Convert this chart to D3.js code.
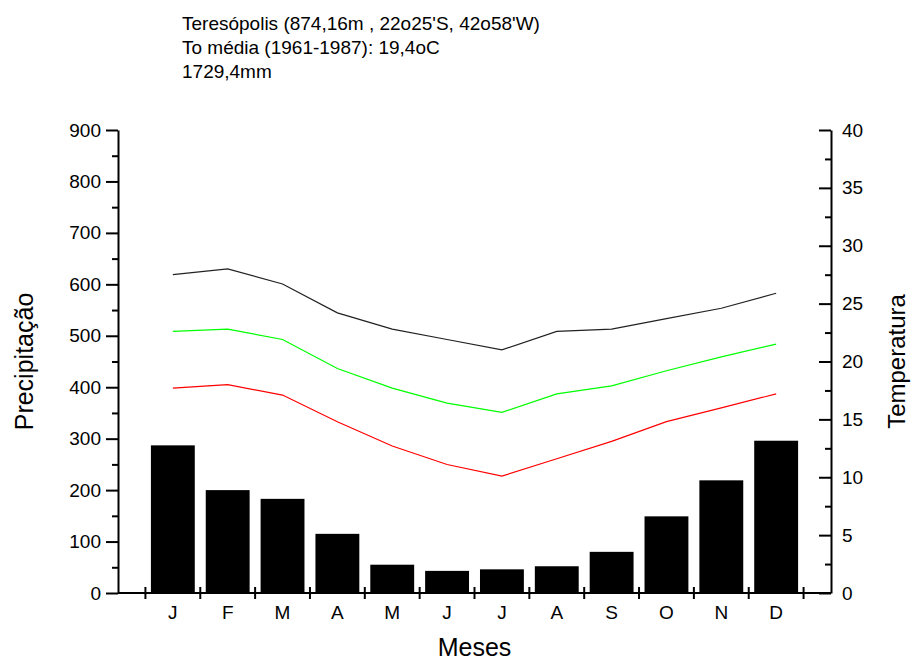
<!DOCTYPE html>
<html>
<head>
<meta charset="utf-8">
<script src="https://cdn.jsdelivr.net/npm/d3@7"></script>
<style>
body { margin: 0; background: #fff; }
svg text { font-family: "Liberation Sans", Arial, sans-serif; fill: #000; }
</style>
</head>
<body>
<script>
// data
var months = ["J","F","M","A","M","J","J","A","S","O","N","D"];
var precip = [287, 200, 183, 115, 55, 43, 46, 52, 80, 149, 219, 296];
var tMax = [27.5, 28.0, 26.7, 24.2, 22.8, 21.9, 21.0, 22.6, 22.8, 23.7, 24.6, 25.9];
var tMean = [22.6, 22.8, 21.9, 19.4, 17.7, 16.4, 15.6, 17.2, 17.9, 19.2, 20.4, 21.5];
var tMin = [17.7, 18.0, 17.1, 14.8, 12.7, 11.1, 10.1, 11.6, 13.1, 14.8, 16.0, 17.2];
var precipTicks = [0,100,200,300,400,500,600,700,800,900];
var tempTicks = [0,5,10,15,20,25,30,35,40];
var titleLines = ["Teresópolis (874,16m , 22o25'S, 42o58'W)",
                  "To média (1961-1987): 19,4oC",
                  "1729,4mm"];

var W = 915, H = 662;
var plotLeft = 118, plotRight = 831, plotTop = 130, plotBottom = 593;

var svg = d3.select("body").append("svg")
    .attr("width", W)
    .attr("height", H);

var x = d3.scaleLinear().domain([0, 13]).range([plotLeft, plotRight]);
var y = d3.scaleLinear().domain([0, 900]).range([plotBottom, plotTop]);
var yT = d3.scaleLinear().domain([0, 40]).range([plotBottom, plotTop]);

// bars
var barW = 0.8;
svg.selectAll("rect.bar")
    .data(precip)
    .enter()
    .append("rect")
    .attr("class", "bar")
    .attr("x", function(d, i){ return x(i + 1 - barW/2); })
    .attr("width", function(){ return x(barW) - x(0); })
    .attr("y", function(d){ return y(d); })
    .attr("height", function(d){ return y(0) - y(d); })
    .attr("fill", "#000");

// temperature lines
var line = d3.line()
    .x(function(d, i){ return x(i + 1); })
    .y(function(d){ return yT(d); });

[[tMax, "#222"], [tMean, "#00ff00"], [tMin, "#ff0000"]].forEach(function(s){
    svg.append("path")
        .datum(s[0])
        .attr("d", line)
        .attr("fill", "none")
        .attr("stroke", s[1])
        .attr("stroke-width", 1.2);
});

// left axis
var minorP = d3.range(50, 900, 100);
svg.append("g")
    .attr("transform", "translate(" + plotLeft + ",0)")
    .call(d3.axisLeft(y).tickValues(minorP).tickSize(6).tickFormat(""))
    .call(function(g){ g.select(".domain").remove(); });
var gl = svg.append("g")
    .attr("transform", "translate(" + plotLeft + ",0)")
    .call(d3.axisLeft(y).tickValues(precipTicks).tickSize(12).tickSizeOuter(0).tickPadding(5));
gl.selectAll("text").style("font-size", "19px").style("font-family", "Liberation Sans, Arial, sans-serif");

// right axis, ticks pointing inward
var minorT = d3.range(2.5, 40, 5);
svg.append("g")
    .attr("transform", "translate(" + plotRight + ",0)")
    .call(d3.axisRight(yT).tickValues(minorT).tickSize(-6).tickFormat(""))
    .call(function(g){ g.select(".domain").remove(); });
var gr = svg.append("g")
    .attr("transform", "translate(" + plotRight + ",0)")
    .call(d3.axisRight(yT).tickValues(tempTicks).tickSize(-12).tickSizeOuter(0).tickPadding(11));
gr.selectAll("text").style("font-size", "19px").style("font-family", "Liberation Sans, Arial, sans-serif");

svg.selectAll(".domain, .tick line").attr("stroke", "#000").attr("stroke-width", 2);

// x axis
svg.append("line")
    .attr("x1", plotLeft).attr("x2", plotRight)
    .attr("y1", plotBottom).attr("y2", plotBottom)
    .attr("stroke", "#000").attr("stroke-width", 2);
svg.selectAll("line.xt")
    .data(d3.range(0, 13))
    .enter()
    .append("line")
    .attr("class", "xt")
    .attr("x1", function(d){ return x(d + 0.5); })
    .attr("x2", function(d){ return x(d + 0.5); })
    .attr("y1", plotBottom - 6).attr("y2", plotBottom + 6)
    .attr("stroke", "#000").attr("stroke-width", 2);
svg.selectAll("text.month")
    .data(months)
    .enter()
    .append("text")
    .attr("class", "month")
    .attr("x", function(d, i){ return x(i + 1); })
    .attr("y", 619)
    .attr("text-anchor", "middle")
    .style("font-size", "19px")
    .text(function(d){ return d; });

// axis titles
svg.append("text")
    .attr("x", x(6.5)).attr("y", 656)
    .attr("text-anchor", "middle")
    .style("font-size", "25px")
    .text("Meses");
svg.append("text")
    .attr("transform", "translate(33," + ((plotTop + plotBottom) / 2) + ") rotate(-90)")
    .attr("text-anchor", "middle")
    .style("font-size", "25px")
    .text("Precipitação");
svg.append("text")
    .attr("transform", "translate(905," + ((plotTop + plotBottom) / 2) + ") rotate(-90)")
    .attr("text-anchor", "middle")
    .style("font-size", "24px")
    .text("Temperatura");

// header
svg.selectAll("text.title")
    .data(titleLines)
    .enter()
    .append("text")
    .attr("class", "title")
    .attr("x", 182)
    .attr("y", function(d, i){ return 30 + i * 24; })
    .style("font-size", "19px")
    .text(function(d){ return d; });
</script>
</body>
</html>
